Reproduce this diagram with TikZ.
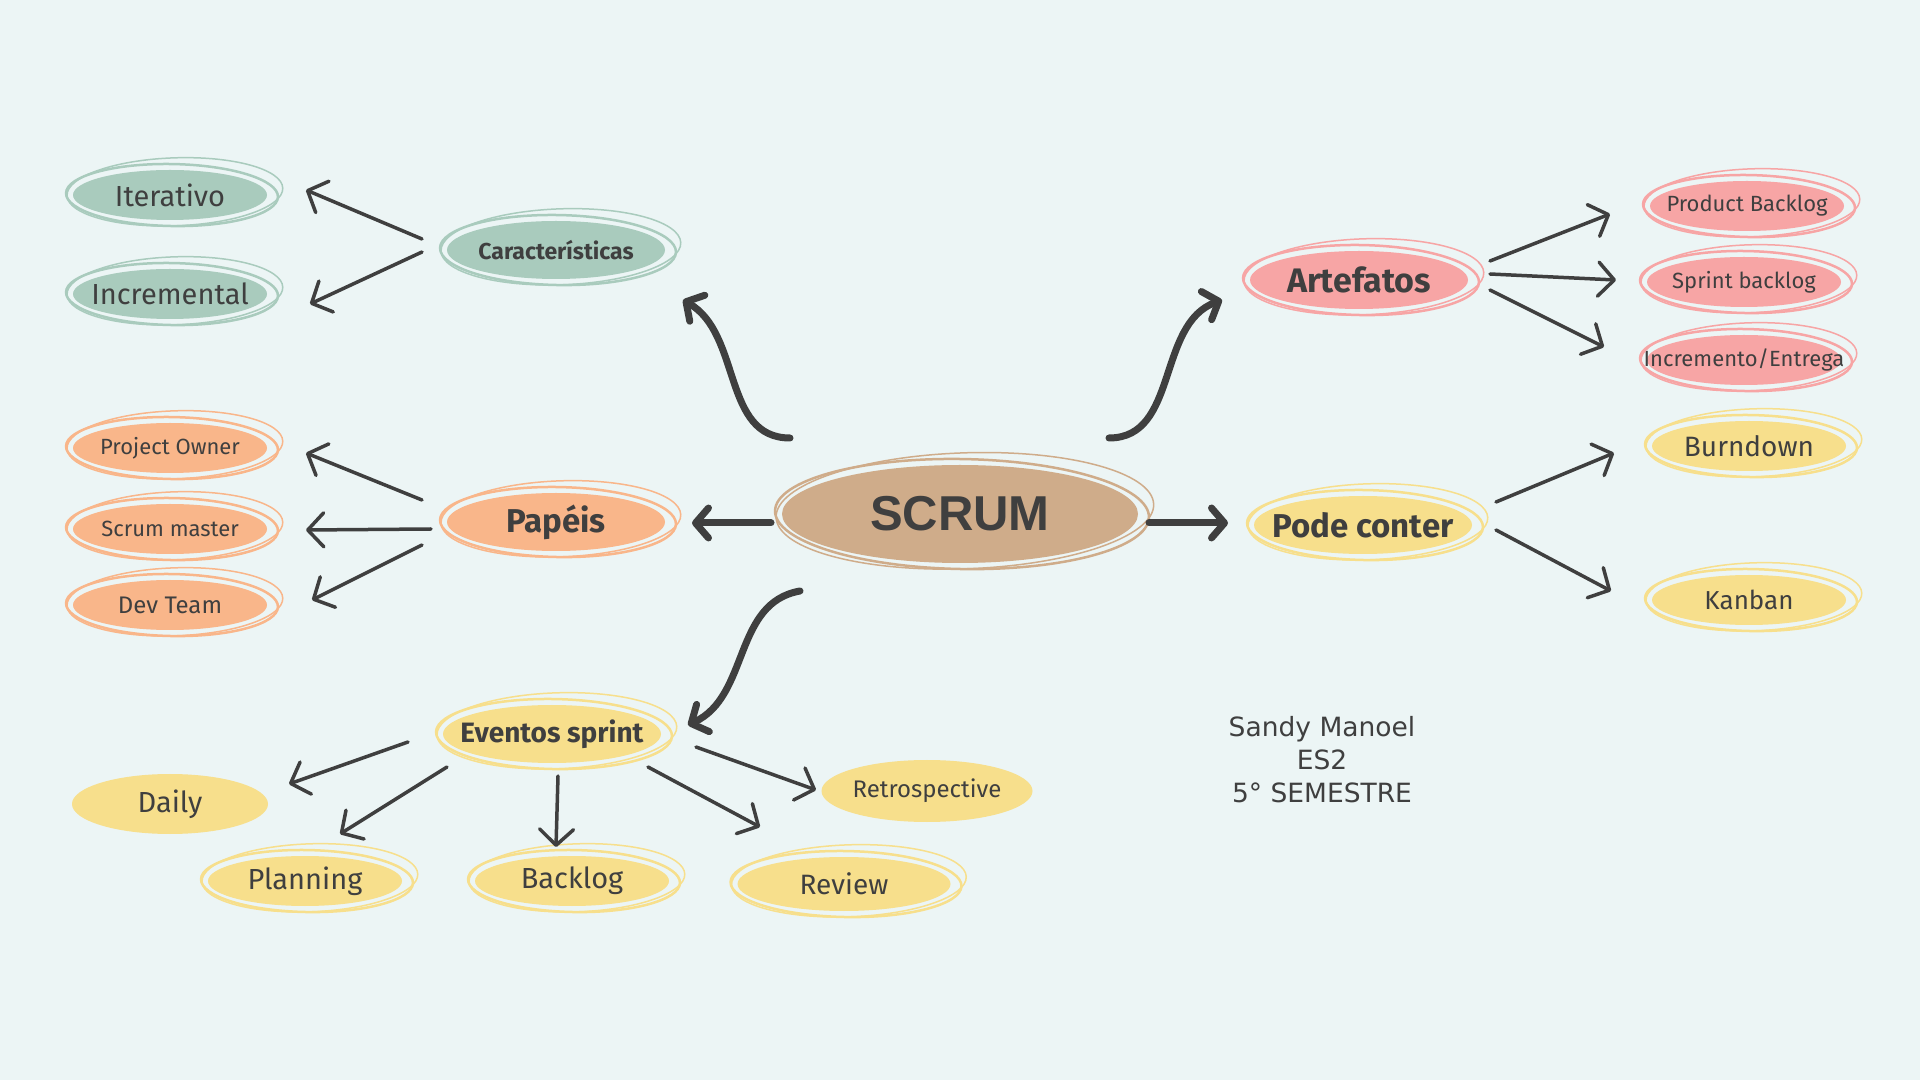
\documentclass[tikz,border=0pt]{standalone}
\usepackage{fontspec}
\setmainfont{Fira Sans}
\newfontfamily\headfont{Liberation Sans}
\newfontfamily\signfont{DejaVu Sans}
\usetikzlibrary{arrows.meta,calc,shapes.geometric}
\definecolor{paper}{RGB}{236,245,245}
\definecolor{sage}{RGB}{169,203,189}
\definecolor{peach}{RGB}{249,182,138}
\definecolor{rose}{RGB}{247,165,165}
\definecolor{butter}{RGB}{247,223,140}
\definecolor{clay}{RGB}{207,172,138}
\definecolor{ink}{RGB}{63,63,63}
\newcommand{\fs}[1]{\fontsize{#1}{#1}\selectfont}

\begin{document}
\begin{tikzpicture}[x=1pt, y=1pt,
    bubble/.style={ellipse, fill=#1, inner xsep=-60pt, inner ysep=0pt, outer sep=0pt, text=ink},
    leaf/.style={bubble=#1, minimum width=194pt, minimum height=50pt},
    hub/.style={bubble=#1, minimum width=218pt, minimum height=58pt, font=\bfseries\fs{33}},
    twig/.style={ink, line width=3.5pt, line cap=round, -{Straight Barb[round, length=16pt, width=34pt]}},
    stem/.style={ink, line width=7pt, line cap=round, -{Straight Barb[round, length=13pt, width=30pt]}}]
  \fill[paper] (0,0) rectangle (1920,1080);

  \node[bubble=clay, minimum width=356pt, minimum height=98pt, font=\headfont\bfseries\fs{49}] (scrum) at (960,566) {SCRUM};

  \node[hub=sage, font=\bfseries\fs{23}] (car) at (556,830) {Características};
  \node[leaf=sage, font=\fs{29}] (iter) at (170,885) {Iterativo};
  \node[leaf=sage, font=\fs{29}] (incr) at (170,786) {Incremental};

  \node[hub=rose, font=\bfseries\fs{34}] (art) at (1359,800) {Artefatos};
  \node[leaf=rose, font=\fs{22}] (pb) at (1747,874) {Product Backlog};
  \node[leaf=rose, font=\fs{22}] (sb) at (1744,798) {Sprint backlog};
  \node[leaf=rose, font=\fs{22}] (inc) at (1744,720) {Incremento/Entrega};

  \node[hub=peach] (pap) at (556,558) {Papéis};
  \node[leaf=peach, font=\fs{22}] (po) at (170,632) {Project Owner};
  \node[leaf=peach, font=\fs{22}] (sm) at (170,551) {Scrum master};
  \node[leaf=peach, font=\fs{24}] (dev) at (170,475) {Dev Team};

  \node[hub=butter] (pode) at (1363,555) {Pode conter};
  \node[leaf=butter, font=\fs{28}] (burn) at (1749,634) {Burndown};
  \node[leaf=butter, font=\fs{26}] (kan) at (1749,480) {Kanban};

  \node[hub=butter, font=\bfseries\fs{28}] (ev) at (552,346) {Eventos sprint};
  \node[bubble=butter, minimum width=196pt, minimum height=60pt, font=\fs{29}] (daily) at (170,276) {Daily};
  \node[bubble=butter, minimum width=211pt, minimum height=62pt, font=\fs{24}] (retro) at (927,289) {Retrospective};
  \node[leaf=butter, font=\fs{29}] (plan) at (305,199) {Planning};
  \node[leaf=butter, font=\fs{29}] (back) at (572,199) {Backlog};
  \node[leaf=butter, minimum width=213pt, minimum height=54pt, font=\fs{28}] (rev) at (844,196) {Review};

  \node[text=ink, align=center, font=\signfont\fontsize{26.5}{33}\selectfont] (sign) at (1322,320) {Sandy Manoel\\ES2\\5° SEMESTRE};

  \foreach \nd/\col in {iter/sage, incr/sage, car/sage, art/rose, pb/rose, sb/rose, inc/rose,
      po/peach, sm/peach, dev/peach, pap/peach, scrum/clay, pode/butter, burn/butter, kan/butter,
      ev/butter, plan/butter, back/butter, rev/butter}{
    \draw[\col, line width=2.5pt, rotate around={-1:(\nd.center)}]
      let \p1=($(\nd.east)-(\nd.west)$), \p2=($(\nd.north)-(\nd.south)$) in
      ([shift={(2,0)}]\nd.center) ellipse [x radius=0.5*\x1+9, y radius=0.5*\y2+6];
    \draw[\col, line width=1.5pt, rotate around={2:(\nd.center)}]
      let \p1=($(\nd.east)-(\nd.west)$), \p2=($(\nd.north)-(\nd.south)$) in
      ([shift={(5,3)}]\nd.center) ellipse [x radius=0.5*\x1+11, y radius=0.5*\y2+9];
  }

  \draw[stem] ($(scrum)+(-189,-9)$) -- ($(pap)+(136,-1)$);
  \draw[stem] ($(scrum)+(189,-9)$) -- ($(pode)+(-135,2)$);
  \draw[stem] ($(scrum)+(-170,76)$) to[out=180, in=-30] ($(car)+(127,-50)$);
  \draw[stem] ($(scrum)+(149,76)$) to[out=0, in=200] ($(art)+(-137,-20)$);
  \draw[stem] ($(scrum)+(-160,-77)$) to[out=190, in=25] ($(ev)+(136,9)$);

  \draw[twig] ($(car)+(-134,11)$) -- ($(iter)+(136,5)$);
  \draw[twig] ($(car)+(-134,-2)$) -- ($(incr)+(140,-10)$);
  \draw[twig] ($(art)+(131,19)$) -- ($(pb)+(-137,-8)$);
  \draw[twig] ($(art)+(131,6)$) -- ($(sb)+(-128,2)$);
  \draw[twig] ($(art)+(131,-10)$) -- ($(inc)+(-140,13)$);
  \draw[twig] ($(pap)+(-134,22)$) -- ($(po)+(136,-5)$);
  \draw[twig] ($(pap)+(-125,-7)$) -- ($(sm)+(136,-1)$);
  \draw[twig] ($(pap)+(-134,-23)$) -- ($(dev)+(142,5)$);
  \draw[twig] ($(pode)+(133,23)$) -- ($(burn)+(-135,-7)$);
  \draw[twig] ($(pode)+(133,-5)$) -- ($(kan)+(-138,9)$);
  \draw[twig] ($(ev)+(-144,-8)$) -- ($(daily)+(119,20)$);
  \draw[twig] ($(ev)+(-105,-33)$) -- ($(plan)+(35,47)$);
  \draw[twig] ($(ev)+(6,-42)$) -- ($(back)+(-16,34)$);
  \draw[twig] ($(ev)+(96,-33)$) -- ($(rev)+(-84,57)$);
  \draw[twig] ($(ev)+(144,-13)$) -- ($(retro)+(-111,1)$);
\end{tikzpicture}
\end{document}
